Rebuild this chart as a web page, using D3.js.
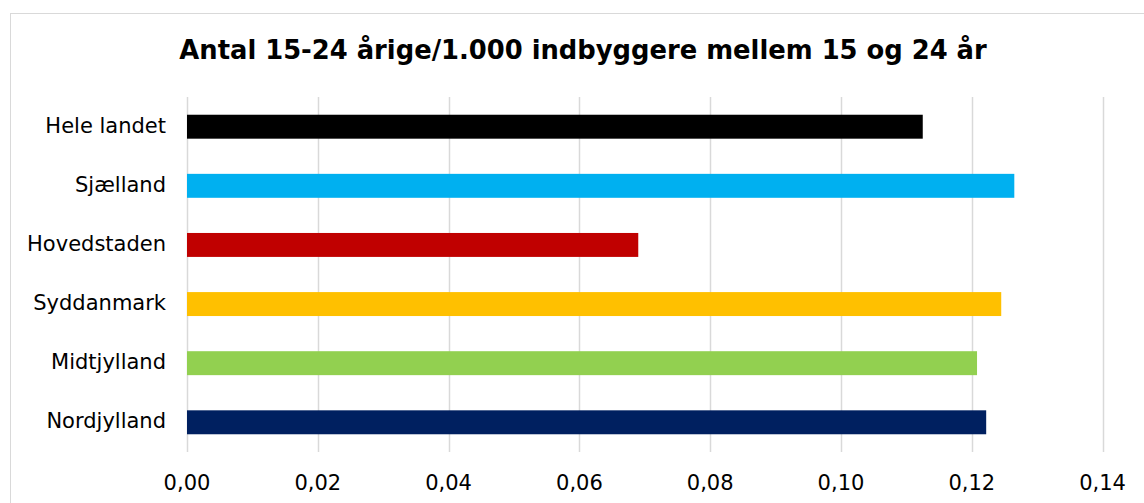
<!DOCTYPE html>
<html>
<head>
  <meta charset="UTF-8">
  <style>
    body { margin: 0; background: #fff; }
    text { font-family: "DejaVu Sans", Verdana, sans-serif; }
  </style>
</head>
<body>
  <svg></svg>
  <script src="https://d3js.org/d3.v7.min.js"></script>
  <script>
    let categories = ["Hele landet", "Sjælland", "Hovedstaden", "Syddanmark", "Midtjylland", "Nordjylland"];
    let values = [0.1125, 0.1265, 0.069, 0.1245, 0.1208, 0.1222];
    let colors = ["#000000", "#00B0F0", "#C00000", "#FFC000", "#92D050", "#002060"];
    let ticks = [0, 0.02, 0.04, 0.06, 0.08, 0.10, 0.12, 0.14];
    let title = "Antal 15-24 årige/1.000 indbyggere mellem 15 og 24 år";

    let width = 1144, height = 503;
    let svg = d3.select("svg").attr("width", width).attr("height", height);

    // chart border
    svg.append("rect")
      .attr("x", 10.5).attr("y", 13.5)
      .attr("width", 1140).attr("height", 500)
      .attr("fill", "none")
      .attr("stroke", "#d9d9d9");

    svg.append("text")
      .attr("x", 583).attr("y", 59)
      .attr("text-anchor", "middle")
      .attr("font-size", "25.8px")
      .attr("font-weight", "bold")
      .text(title);

    let x = d3.scaleLinear().domain([0, 0.14]).range([187, 1102.6]);
    let y = d3.scaleBand().domain(categories).range([97, 452]).paddingInner(0.595).paddingOuter(0.3);

    // gridlines
    svg.append("g").selectAll("line")
      .data(ticks)
      .enter()
      .append("line")
      .attr("x1", d => Math.round(x(d)) + 0.5)
      .attr("x2", d => Math.round(x(d)) + 0.5)
      .attr("y1", 97).attr("y2", 452)
      .attr("stroke", "#d9d9d9")
      .attr("stroke-width", 1.5);

    svg.append("g").selectAll("rect")
      .data(categories)
      .enter()
      .append("rect")
      .attr("x", x(0))
      .attr("y", d => y(d))
      .attr("width", (d, i) => x(values[i]) - x(0))
      .attr("height", y.bandwidth())
      .attr("fill", (d, i) => colors[i]);

    // category labels
    svg.append("g").selectAll("text")
      .data(categories)
      .enter()
      .append("text")
      .attr("x", 166)
      .attr("y", d => y(d) + y.bandwidth() / 2 + 6)
      .attr("text-anchor", "end")
      .attr("font-size", "21px")
      .text(d => d);

    // tick labels
    let fmt = d => d.toFixed(2).replace(".", ",");
    svg.append("g").selectAll("text")
      .data(ticks)
      .enter()
      .append("text")
      .attr("x", d => x(d))
      .attr("y", 490)
      .attr("text-anchor", "middle")
      .attr("font-size", "21px")
      .text(fmt);
  </script>
</body>
</html>
